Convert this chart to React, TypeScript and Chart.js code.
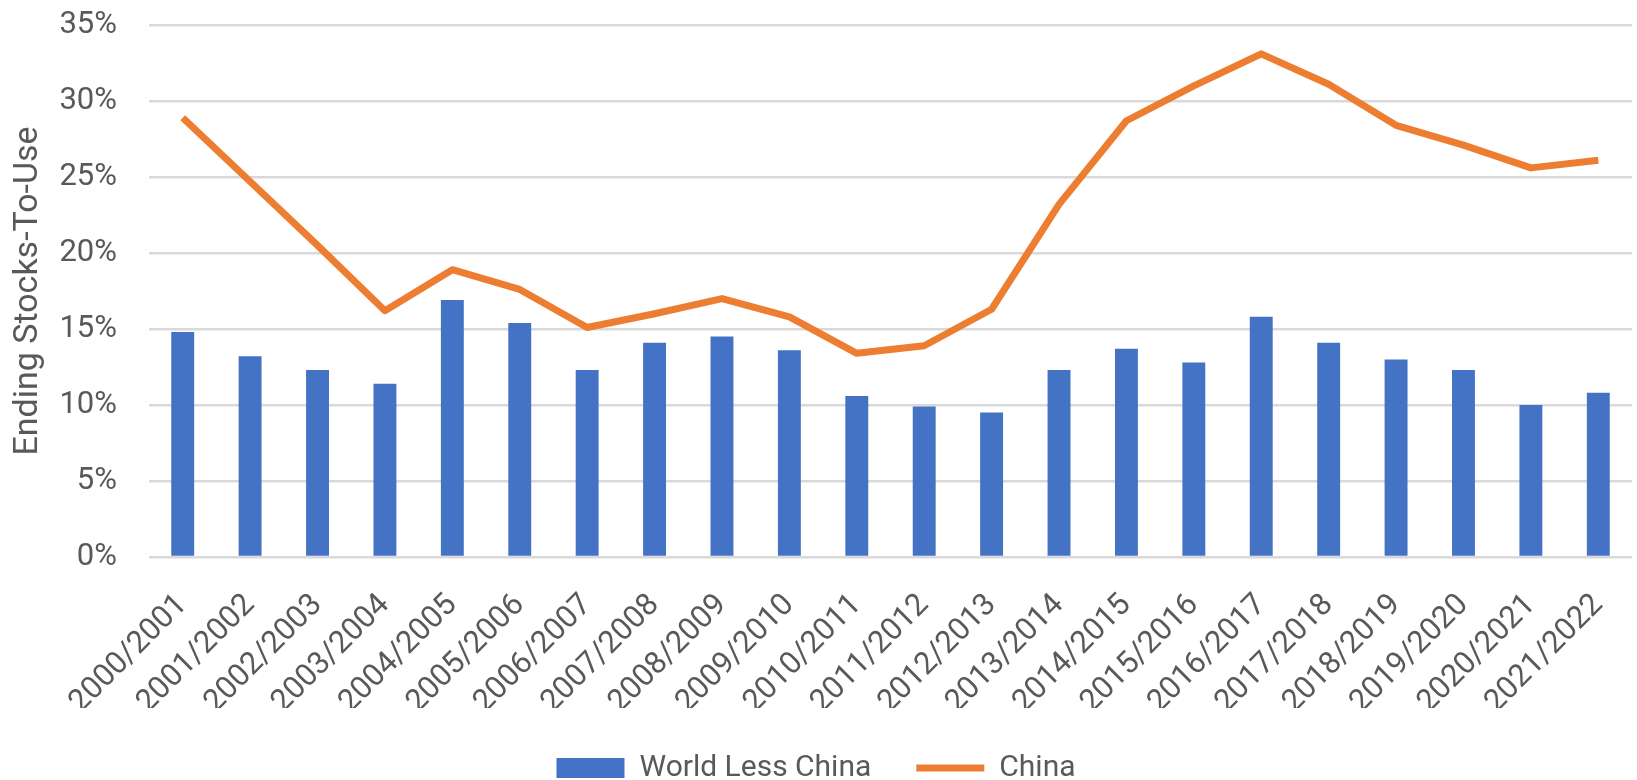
import React, { useEffect, useRef } from "react";
import { Chart, registerables } from "chart.js";

Chart.register(...registerables);

const categories = [
  "2000/2001", "2001/2002", "2002/2003", "2003/2004", "2004/2005", "2005/2006",
  "2006/2007", "2007/2008", "2008/2009", "2009/2010", "2010/2011", "2011/2012",
  "2012/2013", "2013/2014", "2014/2015", "2015/2016", "2016/2017", "2017/2018",
  "2018/2019", "2019/2020", "2020/2021", "2021/2022",
];

const worldLessChina = [
  14.8, 13.2, 12.3, 11.4, 16.9, 15.4, 12.3, 14.1, 14.5, 13.6, 10.6,
  9.9, 9.5, 12.3, 13.7, 12.8, 15.8, 14.1, 13.0, 12.3, 10.0, 10.8,
];

const china = [
  28.9, 24.7, 20.5, 16.2, 18.9, 17.6, 15.1, 16.0, 17.0, 15.8, 13.4,
  13.9, 16.3, 23.2, 28.7, 31.0, 33.1, 31.1, 28.4, 27.1, 25.6, 26.1,
];

const yTicks = [0, 5, 10, 15, 20, 25, 30, 35];

const BLUE = "#4472C4";
const ORANGE = "#ED7D31";
const TEXT = "#595959";
const GRID = "#D9D9D9";
const FONT = "Roboto, 'Open Sans', sans-serif";

export default function App() {
  const ref = useRef<HTMLCanvasElement | null>(null);

  useEffect(() => {
    if (!ref.current) return;
    const chart = new Chart(ref.current, {
      type: "bar",
      data: {
        labels: categories,
        datasets: [
          {
            type: "line",
            label: "China",
            data: china,
            borderColor: ORANGE,
            backgroundColor: ORANGE,
            borderWidth: 7,
            pointRadius: 0,
            tension: 0,
            borderJoinStyle: "round",
            borderCapStyle: "butt",
            order: 1,
          } as any,
          {
            type: "bar",
            label: "World Less China",
            data: worldLessChina,
            backgroundColor: BLUE,
            borderWidth: 0,
            barPercentage: 0.34,
            categoryPercentage: 1,
            order: 2,
          } as any,
        ],
      },
      options: {
        animation: false,
        responsive: false,
        maintainAspectRatio: false,
        layout: { padding: { top: 25, right: 5, left: 0, bottom: -13 } },
        plugins: {
          tooltip: { enabled: false },
          legend: {
            position: "bottom",
            labels: {
              usePointStyle: true,
              pointStyleWidth: 68,
              boxHeight: 20,
              padding: 45,
              color: TEXT,
              font: { family: FONT, size: 30 },
              generateLabels: (c: any) => [
                {
                  text: c.data.datasets[1].label,
                  fillStyle: BLUE,
                  strokeStyle: BLUE,
                  lineWidth: 0,
                  pointStyle: "rect",
                  hidden: false,
                  datasetIndex: 1,
                  fontColor: TEXT,
                },
                {
                  text: c.data.datasets[0].label,
                  fillStyle: ORANGE,
                  strokeStyle: ORANGE,
                  lineWidth: 7,
                  pointStyle: "line",
                  hidden: false,
                  datasetIndex: 0,
                  fontColor: TEXT,
                },
              ],
            },
          },
        },
        scales: {
          x: {
            grid: { display: false, drawTicks: false },
            border: { display: false },
            ticks: {
              color: TEXT,
              font: { family: FONT, size: 31 },
              minRotation: 45,
              maxRotation: 45,
              autoSkip: false,
              padding: 30,
            },
            afterFit: (s: any) => {
              s.height = 151;
              s.paddingLeft = 0;
              s.paddingRight = 0;
            },
          },
          y: {
            min: 0,
            max: 35,
            afterBuildTicks: (s: any) => {
              s.ticks = yTicks.map((v) => ({ value: v }));
            },
            grid: { color: GRID, lineWidth: 2.5, drawTicks: false },
            border: { display: false },
            ticks: {
              color: TEXT,
              font: { family: FONT, size: 31 },
              padding: 32,
              callback: (v: any) => `${v}%`,
            },
            title: {
              display: true,
              text: "Ending Stocks-To-Use",
              color: TEXT,
              font: { family: FONT, size: 34 },
              padding: { top: 8, bottom: 0 },
            },
            afterFit: (s: any) => {
              s.width = 149;
              s.paddingTop = 0;
              s.paddingBottom = 0;
            },
          },
        },
      },
    });
    return () => chart.destroy();
  }, []);

  return (
    <div style={{ position: "fixed", left: 0, top: 0, width: 1637, height: 780, background: "#fff" }}>
      <canvas ref={ref} width={1637} height={780} style={{ width: 1637, height: 780 }} />
    </div>
  );
}
